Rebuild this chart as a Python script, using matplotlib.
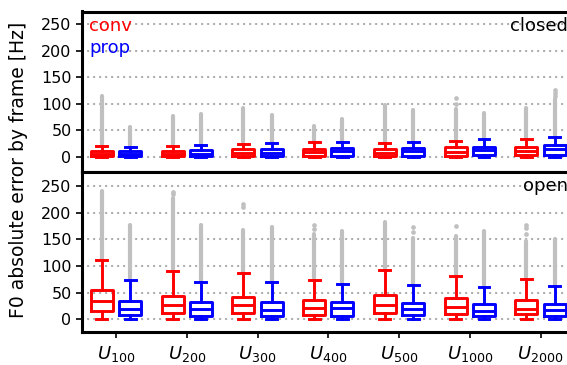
import matplotlib
matplotlib.use("Agg")
import matplotlib.pyplot as plt

# ---- data ----
xlabels = [r"$U_{100}$", r"$U_{200}$", r"$U_{300}$", r"$U_{400}$",
           r"$U_{500}$", r"$U_{1000}$", r"$U_{2000}$"]

# closed condition
closed_conv_q1 = [1.5, 1.5, 1.5, 2, 1.5, 2, 2.5]
closed_conv_med = [5, 5, 6, 8, 7, 9, 10.5]
closed_conv_q3 = [10.5, 11, 14, 14.5, 14, 17.5, 19]
closed_conv_whishi = [20.5, 20.5, 24, 27, 25.5, 30, 34]
closed_conv_dense_top = [115, 76, 92, 57, 97, 90, 92]
closed_conv_isolated = [[], [], [], [], [], [100, 111], []]

closed_prop_q1 = [1.5, 1.5, 1.5, 2, 2, 2.5, 3]
closed_prop_med = [5, 5.5, 6.5, 10, 10.5, 12, 14]
closed_prop_q3 = [10, 12, 14, 17, 17, 19, 22]
closed_prop_whishi = [19, 22.5, 25, 28.5, 28, 33, 37.5]
closed_prop_dense_top = [56, 80, 78, 72, 89, 82, 108]
closed_prop_isolated = [[], [], [], [], [], [], [115, 120, 126]]

# open condition
open_conv_q1 = [15, 12, 11, 7.5, 12, 9, 9]
open_conv_med = [34, 27.5, 26, 21, 27.5, 22.5, 20]
open_conv_q3 = [54, 44, 41, 36, 46, 39, 36]
open_conv_whishi = [110.5, 91, 86, 74, 93, 82, 76]
open_conv_dense_top = [241, 228, 168, 160, 182, 157, 147]
open_conv_isolated = [[], [234, 239], [211, 217], [170, 176], [], [174], [159, 171, 176]]

open_prop_q1 = [7.5, 7, 7, 7, 7.5, 5.6, 5.6]
open_prop_med = [20, 19, 18, 21, 19, 16, 17.5]
open_prop_q3 = [35, 33, 33, 32.5, 31, 29, 29]
open_prop_whishi = [74, 69, 69, 67, 64, 61, 63]
open_prop_dense_top = [177, 177, 173, 165, 152, 165, 151]
open_prop_isolated = [[], [], [], [], [163, 173], [], []]

whislo = 0

# ---- figure ----
W, H = 567, 365
fig = plt.figure(figsize=(W / 100, H / 100), dpi=100)
left = 82 / W
right = 576 / W
ax_top = fig.add_axes([left, 1 - 171.5 / H, right - left, 160 / H])
ax_bot = fig.add_axes([left, 1 - 331.5 / H, right - left, 160 / H])

RED = "#ff0000"
BLUE = "#0000ff"
GREY = "#c0c0c0"
positions = list(range(1, len(xlabels) + 1))
OFF = 0.2
BW = 0.31


def draw(ax, q1, med, q3, hi, dtop, iso, color, off):
    stats = []
    for i in range(len(q1)):
        stats.append(dict(q1=q1[i], med=med[i], q3=q3[i], whislo=whislo,
                          whishi=hi[i], fliers=[]))
    pos = [p + off for p in positions]
    ax.vlines(pos, [h + 3 for h in hi], dtop, colors=GREY, linewidth=3.0,
              capstyle="round", zorder=1)
    for p, pts in zip(pos, iso):
        if pts:
            ax.plot([p] * len(pts), pts, "o", color=GREY, markersize=3.4,
                    markeredgewidth=0, zorder=1)
    lp = dict(color=color, linewidth=2.1)
    ax.bxp(stats, positions=pos, widths=BW, showfliers=False,
           boxprops=lp, whiskerprops=lp, capprops=lp, medianprops=lp,
           manage_ticks=False, zorder=3)


draw(ax_top, closed_conv_q1, closed_conv_med, closed_conv_q3, closed_conv_whishi,
     closed_conv_dense_top, closed_conv_isolated, RED, -OFF)
draw(ax_top, closed_prop_q1, closed_prop_med, closed_prop_q3, closed_prop_whishi,
     closed_prop_dense_top, closed_prop_isolated, BLUE, OFF)
draw(ax_bot, open_conv_q1, open_conv_med, open_conv_q3, open_conv_whishi,
     open_conv_dense_top, open_conv_isolated, RED, -OFF)
draw(ax_bot, open_prop_q1, open_prop_med, open_prop_q3, open_prop_whishi,
     open_prop_dense_top, open_prop_isolated, BLUE, OFF)

for ax, ylim in ((ax_top, (-28, 274)), (ax_bot, (-23, 277))):
    ax.set_xlim(0.52, 7.5)
    ax.set_ylim(*ylim)
    ax.set_yticks([0, 50, 100, 150, 200, 250])
    ax.yaxis.grid(True, linestyle=(0, (0.1, 2.6)), color="#aaaaaa", linewidth=1.6,
                  dash_capstyle="round")
    ax.set_axisbelow(True)
    for s in ax.spines.values():
        s.set_linewidth(2.2)
    ax.tick_params(axis="y", labelsize=11.5, width=1.2, length=4)
    ax.tick_params(axis="x", labelsize=13, width=1.2, length=4)

ax_top.set_xticks(positions)
ax_top.tick_params(axis="x", bottom=False, labelbottom=False)
ax_bot.set_xticks(positions)
ax_bot.set_xticklabels(xlabels)
ax_bot.tick_params(axis="x", pad=5)

ax_top.text(0.014, 0.965, "conv", color=RED, fontsize=13, transform=ax_top.transAxes,
            ha="left", va="top")
ax_top.text(0.014, 0.83, "prop", color=BLUE, fontsize=13, transform=ax_top.transAxes,
            ha="left", va="top")
ax_top.text(0.983, 0.965, "closed", color="black", fontsize=13,
            transform=ax_top.transAxes, ha="right", va="top")
ax_bot.text(0.983, 0.965, "open", color="black", fontsize=13,
            transform=ax_bot.transAxes, ha="right", va="top")

fig.text(19 / W, 0.535, "F0 absolute error by frame [Hz]", rotation=90,
         ha="center", va="center", fontsize=13.5)

fig.savefig("out.png", dpi=100)
